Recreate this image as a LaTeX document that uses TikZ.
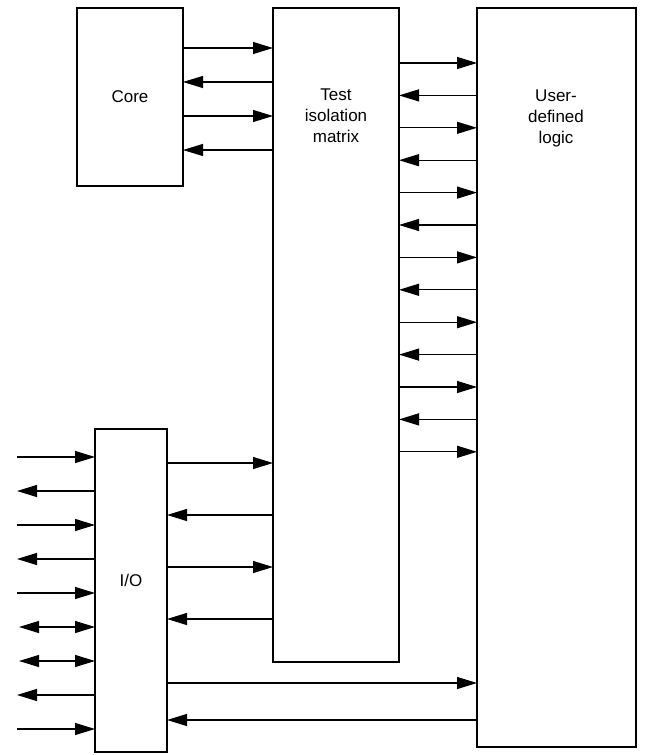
\documentclass[tikz,border=0pt]{standalone}
\usepackage{fontspec}
\setmainfont{Liberation Sans}
\usetikzlibrary{arrows.meta}
\begin{document}
\begin{tikzpicture}[x=1pt,y=-1pt,
  blk/.style={draw,line width=1.2pt,fill=white},
  sig/.style={line width=1.2pt,-{Triangle[length=20pt,width=12pt]}},
  bsig/.style={line width=1.2pt,{Triangle[length=20pt,width=12pt]}-{Triangle[length=20pt,width=12pt]}},
  lbl/.style={font=\fontsize{17}{21}\selectfont,align=center}]
\useasboundingbox (0,0) rectangle (650,755);
% boxes
\draw[blk] (77,8) rectangle (183,186);
\draw[blk] (273,8) rectangle (399,662);
\draw[blk] (477,8) rectangle (636,747);
\draw[blk] (95,429) rectangle (167,752);
\node[lbl] (core) at (130,97) {Core};
\node[lbl] (tim) at (336,116) {Test\\isolation\\matrix};
\node[lbl] (udl) at (556,118) {User-\\defined\\logic};
\node[lbl] (io) at (131,580) {I/O};
% core <-> matrix
\foreach \y in {48,116} \draw[sig] (183,\y) -- (273,\y);
\foreach \y in {82,150} \draw[sig] (273,\y) -- (183,\y);
% matrix <-> user logic
\foreach \i in {0,...,12}{
  \pgfmathsetmacro{\yy}{63+32.4*\i}
  \ifodd\i
    \draw[sig] (477,\yy) -- (399,\yy);
  \else
    \draw[sig] (399,\yy) -- (477,\yy);
  \fi
}
% I/O <-> matrix
\foreach \y in {463,567} \draw[sig] (167,\y) -- (273,\y);
\foreach \y in {515,619} \draw[sig] (273,\y) -- (167,\y);
% I/O <-> user logic
\draw[sig] (167,683) -- (477,683);
\draw[sig] (477,720) -- (167,720);
% external pins
\foreach \y in {457,525,593,729} \draw[sig] (17,\y) -- (95,\y);
\foreach \y in {491,559,695} \draw[sig] (95,\y) -- (17,\y);
\foreach \y in {627,661} \draw[bsig] (19,\y) -- (95,\y);
\end{tikzpicture}
\end{document}
